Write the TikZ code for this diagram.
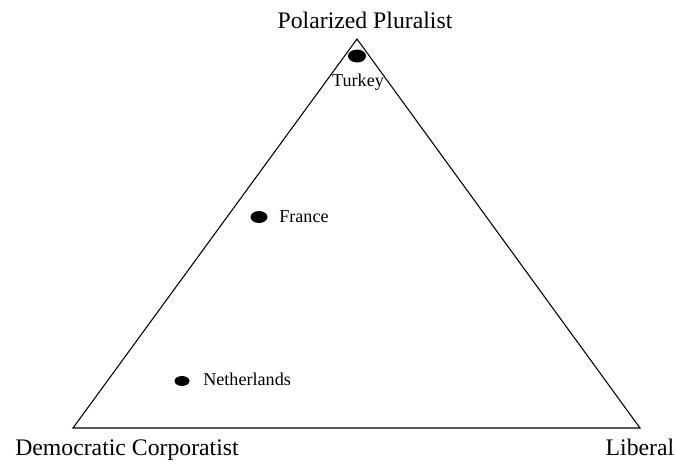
\documentclass[tikz,border=0pt]{standalone}
\usepackage{xcolor}
\usepackage{fontspec}
\setmainfont{Liberation Serif}
\usepackage{tikz}

\begin{document}
\begin{tikzpicture}[x=0.75pt, y=-0.75pt,
  corner/.style={font=\fontsize{17.8}{20}\selectfont, inner sep=0pt, anchor=base},
  country/.style={font=\fontsize{13.6}{16}\selectfont, inner sep=0pt, anchor=base west}]
\useasboundingbox (0,0) rectangle (676,465);
\coordinate (top) at (357,39);
\coordinate (left) at (73,428);
\coordinate (right) at (640,428);
\draw[line width=0.8pt, black] (left) -- (top) -- (right) -- cycle;
\node[corner] (pp) at (365,28) {Polarized Pluralist};
\node[corner] (dc) at (127,455) {Democratic Corporatist};
\node[corner] (lib) at (640,455) {Liberal};
\fill[black] (357,56) ellipse (9 and 6.5);
\node[country, anchor=base] (tr) at (358,86) {Turkey};
\fill[black] (259,217) ellipse (8.5 and 6);
\node[country] (fr) at (279,222) {France};
\fill[black] (182,381) ellipse (7.5 and 5);
\node[country] (nl) at (203,385) {Netherlands};
\end{tikzpicture}
\end{document}
